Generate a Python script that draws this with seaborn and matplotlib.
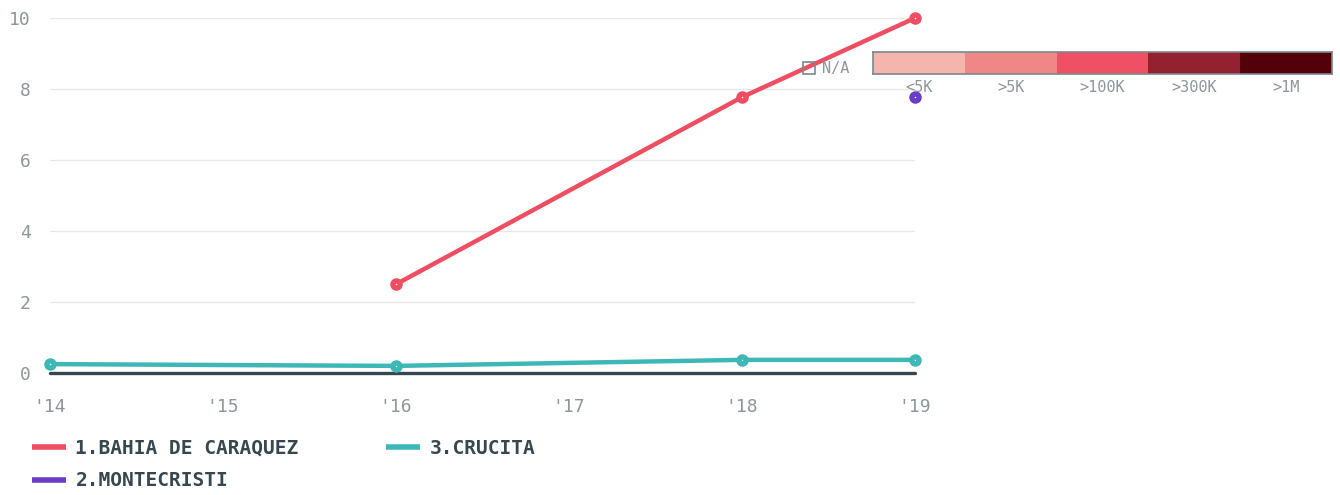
import matplotlib
matplotlib.use("Agg")
import matplotlib.pyplot as plt
import matplotlib.patches as mpatches
import pandas as pd
import seaborn as sns

# data
years_bahia = [2016, 2018, 2019]
vals_bahia = [2.5, 7.77, 10.0]
years_monte = [2019]
vals_monte = [7.77]
years_crucita = [2014, 2016, 2018, 2019]
vals_crucita = [0.25, 0.2, 0.37, 0.37]

city_names = ["1.BAHIA DE CARAQUEZ", "2.MONTECRISTI", "3.CRUCITA"]
city_colors = ["#ee4d62", "#6a3cc8", "#3db8b6"]

year_ticks = [2014, 2015, 2016, 2017, 2018, 2019]
year_labels = ["'14", "'15", "'16", "'17", "'18", "'19"]
y_ticks = [0, 2, 4, 6, 8, 10]

scale_labels = ["<5K", ">5K", ">100K", ">300K", ">1M"]
scale_colors = ["#f4b6ac", "#f08787", "#ef5063", "#93212f", "#52000a"]

df = pd.concat([
    pd.DataFrame({"year": years_bahia, "value": vals_bahia, "city": city_names[0]}),
    pd.DataFrame({"year": years_monte, "value": vals_monte, "city": city_names[1]}),
    pd.DataFrame({"year": years_crucita, "value": vals_crucita, "city": city_names[2]}),
])

sns.set_theme(style="white")
plt.rcParams["font.family"] = ["DejaVu Sans Mono"]
tick_grey = "#8d969b"
dark = "#37474f"

fig = plt.figure(figsize=(13.4, 4.95), dpi=100)
ax = fig.add_axes([50 / 1340, 122 / 495, 865 / 1340, 355 / 495])

palette = dict(zip(city_names, city_colors))
sns.lineplot(data=df, x="year", y="value", hue="city", hue_order=city_names,
             palette=palette, linewidth=3.2, marker="o", markersize=9,
             markeredgewidth=0, ax=ax, clip_on=False, zorder=3)
sns.scatterplot(data=df, x="year", y="value", color="white", s=1.2,
                linewidth=0, ax=ax, legend=False, clip_on=False, zorder=5)

ax.set_xlim(2014, 2019)
ax.set_ylim(0, 10)
ax.set_xticks(year_ticks)
ax.set_xticklabels(year_labels)
ax.set_yticks(y_ticks)
for y in y_ticks[1:]:
    ax.axhline(y, color="#e6e8e9", linewidth=1, zorder=0)
ax.axhline(0, color=dark, linewidth=2.4, zorder=2, clip_on=False)
for s in ax.spines.values():
    s.set_visible(False)
ax.tick_params(axis="both", length=0, colors=tick_grey, labelsize=13)
ax.tick_params(axis="y", pad=14)
ax.tick_params(axis="x", pad=18)
ax.set_xlabel("")
ax.set_ylabel("")

leg = ax.legend(loc="upper left", bbox_to_anchor=(-28 / 865, -0.158), ncol=2,
                frameon=False, borderpad=0, handlelength=1.75, handletextpad=0.5,
                columnspacing=4.5, labelspacing=0.7,
                prop={"weight": "bold", "size": 14})
for t in leg.get_texts():
    t.set_color(dark)
for h in leg.get_lines():
    h.set_linewidth(4)
    h.set_marker("")
    h.set_solid_capstyle("butt")

# colour scale legend
cax = fig.add_axes([873 / 1340, 421 / 495, 459 / 1340, 22 / 495])
sns.barplot(x=scale_labels, y=[1] * len(scale_labels), hue=scale_labels,
            palette=scale_colors, saturation=1, width=1.0, ax=cax,
            legend=False, linewidth=0)
cax.set_xlim(-0.5, 4.5)
cax.set_ylim(0, 1)
cax.set_yticks([])
cax.set_ylabel("")
for s in cax.spines.values():
    s.set_color("#7d878c")
    s.set_linewidth(1.2)
cax.tick_params(axis="x", length=0, colors=tick_grey, labelsize=11, pad=4)

fig.patches.append(mpatches.Rectangle((803 / 1340, 421 / 495), 12 / 1340, 12 / 495,
                                      transform=fig.transFigure, fill=False,
                                      edgecolor="#7d878c", linewidth=1.2))
fig.text(822 / 1340, 427 / 495, "N/A", color=tick_grey, fontsize=11, va="center")

fig.savefig("out.png", dpi=100)
